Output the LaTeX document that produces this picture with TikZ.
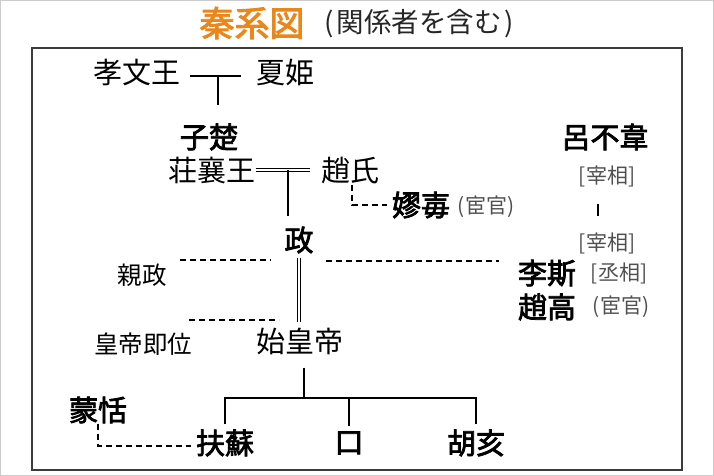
\documentclass[tikz,border=0pt]{standalone}
\usepackage{fontspec}
\newfontfamily\jpfont{Noto Sans CJK JP}
\newfontfamily\jpmedium{Noto Sans CJK JP}[FakeBold=2.6]
\usetikzlibrary{calc}
\definecolor{titleorange}{RGB}{232,136,28}
\definecolor{framegray}{RGB}{60,60,60}
\definecolor{notegray}{RGB}{80,80,80}

\begin{document}
\begin{tikzpicture}[
  x=1pt, y=-1pt,
  every node/.style={inner sep=0pt, font=\jpfont},
  person/.style={font=\jpfont\fontsize{29}{29}\selectfont},
  keyperson/.style={font=\jpmedium\fontsize{29}{29}\selectfont},
  note/.style={font=\jpfont\fontsize{21}{21}\selectfont, text=notegray},
  event/.style={font=\jpfont\fontsize{24.5}{24.5}\selectfont},
  kin/.style={draw, line width=1.8pt},
  wed/.style={draw, double, double distance=2.2pt, line width=1.1pt},
  link/.style={draw, dash pattern=on 6pt off 4pt, line width=1.2pt}
]
\useasboundingbox (0,0) rectangle (714,476);
\draw[black!20, line width=1pt] (0.5,0.5) rectangle (713.5,475.5);
\draw[framegray, line width=1.6pt] (32,48) rectangle (682,470);

\node[font=\jpmedium\fontsize{35}{35}\selectfont, text=titleorange] (title) at (252,23) {秦系図};
\node[font=\jpfont\fontsize{27.5}{27.5}\selectfont, text=black!85] (subtitle) at (419,24) {(\hspace{3pt}関係者を含む\hspace{3pt})};

\node[person] (kobun) at (137,72) {孝文王};
\node[person] (kaki) at (285,72) {夏姫};
\node[keyperson] (shiso) at (209,137) {子楚};
\node[keyperson] (ryo) at (605,137) {呂不韋};
\node[person] (soujou) at (212,171) {荘襄王};
\node[person] (choushi) at (350,171) {趙氏};
\node[keyperson] (rouai) at (421,205) {嫪毐};
\node[note] (rouainote) at (486,207) {(宦官)};
\node[note] (sai1) at (607,176) {[宰相]};
\node[note] (sai2) at (607,243) {[宰相]};
\node[keyperson] (sei) at (299,240) {政};
\node[event] (shinsei) at (142,275) {親政};
\node[keyperson] (rishi) at (547,273) {李斯};
\node[note] (rishinote) at (619,273) {[丞相]};
\node[keyperson] (choukou) at (547,307) {趙高};
\node[note] (choukounote) at (621,307) {(宦官)};
\node[event] (sokui) at (143,344) {皇帝即位};
\node[person] (shikou) at (300,342) {始皇帝};
\node[keyperson] (moten) at (98,410) {蒙恬};
\node[keyperson] (fuso) at (225,443) {扶蘇};
\node[keyperson] (unknown) at (349,443) {口};
\node[keyperson] (kogai) at (476,443) {胡亥};

\coordinate (w1) at ($(kobun.east)!0.5!(kaki.west)$);
\draw[kin, shorten <=9pt, shorten >=15pt] ([yshift=-4pt]kobun.east) -- ([yshift=-4pt]kaki.west);
\draw[kin, shorten >=18pt] ([yshift=-4pt]w1) -- (w1 |- shiso.north);

\coordinate (w2) at ($(soujou.east)!0.5!(choushi.west)$);
\draw[wed, shorten >=11pt] ([yshift=1pt]soujou.east) -- ([yshift=1pt]choushi.west);
\draw[kin, shorten >=10pt] ([yshift=1pt]w2) -- (w2 |- sei.north);
\draw[link, shorten >=5pt] ([xshift=2pt]choushi.south) |- (rouai.west);

\draw[wed, shorten <=4pt, shorten >=6pt] (sei.south) -- (sei |- shikou.north);

\coordinate (reignL) at (180,260);
\coordinate (reignM) at (271,260);
\coordinate (reignR) at (326,261);
\coordinate (reignE) at (499,261);
\coordinate (crownL) at (189,320);
\coordinate (crownR) at (279,320);
\draw[link] (reignL) -- (reignM);
\draw[link] (reignR) -- (reignE);
\draw[link] (crownL) -- (crownR);

\draw[kin, line width=1.4pt, shorten <=17pt, shorten >=16pt] ([xshift=-9pt]sai1.south) -- ([xshift=-9pt]sai2.north);

\coordinate (bar) at ($(shikou.south)+(4,42)$);
\draw[kin, shorten <=12pt] (shikou.south -| bar) -- (bar);
\draw[kin, shorten <=5pt, shorten >=5pt] (fuso.north) |- (bar) -| (kogai.north);
\draw[kin, shorten >=5pt] (unknown |- bar) -- (unknown.north);
\draw[link, shorten >=5pt] (moten.south) |- ([yshift=-3pt]fuso.west);
\end{tikzpicture}
\end{document}
